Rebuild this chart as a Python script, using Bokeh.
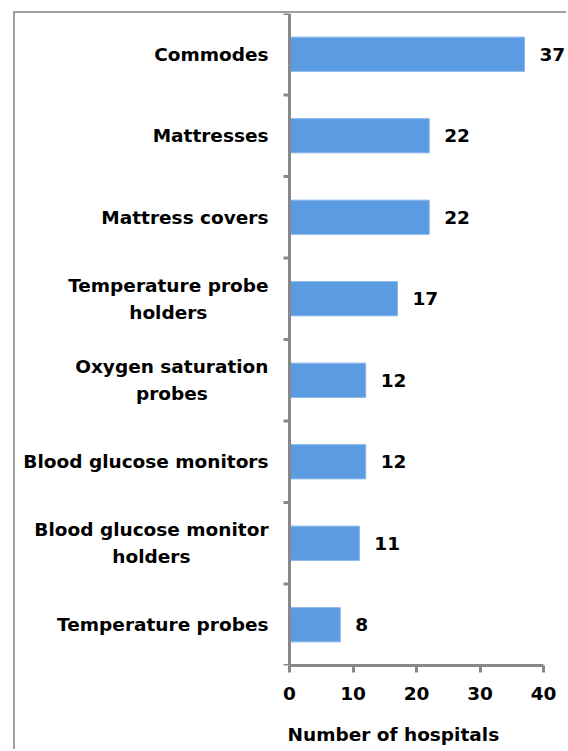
from bokeh.plotting import figure
from bokeh.models import Range1d, FixedTicker, Span, Title
from bokeh.core.properties import value
from bokeh.embed import file_html
from bokeh.resources import INLINE

categories = ["Commodes", "Mattresses", "Mattress covers", "Temperature probe\nholders",
              "Oxygen saturation\nprobes", "Blood glucose monitors",
              "Blood glucose monitor\nholders", "Temperature probes"]
counts = [37, 22, 22, 17, 12, 12, 11, 8]
x_ticks = [0, 10, 20, 30, 40]
axis_title = "Number of hospitals"

FONT = value("DejaVu Sans")
FS = "18.5px"
GRAY = "#888888"
BAR = "#5b9be1"

n = len(categories)
pos = [n - 1 - i for i in range(n)]
boundaries = [k - 0.5 for k in range(n + 1)]

W = 553
frame_h = 652
bottom_panel = 86
H = frame_h + bottom_panel
zero_px, forty_px = 274, 528
scale = (forty_px - zero_px) / (x_ticks[-1] - x_ticks[0])
x_start = -zero_px / scale
x_end = (W - zero_px) / scale

p = figure(width=W, height=H, x_range=Range1d(x_start, x_end), y_range=Range1d(-0.5, n - 0.5),
           output_backend="svg", toolbar_location=None, y_axis_location=None,
           min_border_left=0, min_border_top=0, min_border_right=0,
           min_border_bottom=bottom_panel)
p.styles = {"margin-left": "13px", "margin-top": "11px",
            "border-left": "2px solid #a0a0a0", "border-top": "2px solid #a0a0a0"}
p.grid.visible = False
p.outline_line_color = None
p.background_fill_color = "white"
p.border_fill_color = "white"

p.hbar(y=pos, left=0, right=counts, height=0.42, fill_color=BAR, line_color="#86b3ea", line_width=1)

# vertical axis
p.add_layout(Span(location=0, dimension="height", line_color=GRAY, line_width=3))
tick_len = 6 / scale
p.segment(x0=[-tick_len] * len(boundaries), x1=[0] * len(boundaries), y0=boundaries, y1=boundaries,
          line_color=GRAY, line_width=3)

label_gap = 21 / scale
p.text(x=[-label_gap] * n, y=pos, text=categories, anchor="center_right", text_align="center",
       text_font=FONT, text_font_style="bold", text_font_size=FS, text_line_height=1.3,
       text_color="black")

p.text(x=counts, y=pos, text=[str(c) for c in counts], x_offset=15, text_align="left",
       text_baseline="middle", text_font=FONT, text_font_style="bold", text_font_size=FS,
       text_color="black")

ax = p.xaxis[0]
ax.bounds = (x_ticks[0], x_ticks[-1])
ax.ticker = FixedTicker(ticks=x_ticks)
ax.axis_line_color = GRAY
ax.axis_line_width = 3
ax.major_tick_line_color = GRAY
ax.major_tick_line_width = 3
ax.major_tick_in = 0
ax.major_tick_out = 7
ax.minor_tick_line_color = None
ax.major_label_standoff = 14
ax.major_label_text_font = "DejaVu Sans"
ax.major_label_text_font_style = "bold"
ax.major_label_text_font_size = FS
ax.major_label_text_color = "black"

p.add_layout(Title(text=axis_title, align="left", offset=272, vertical_align="bottom", standoff=8,
                   padding={"left": 0, "right": 0, "top": 15, "bottom": 0},
                   text_font="DejaVu Sans", text_font_style="bold", text_font_size=FS,
                   text_color="black"), "below")

open("out.html", "w").write(file_html(p, INLINE))
